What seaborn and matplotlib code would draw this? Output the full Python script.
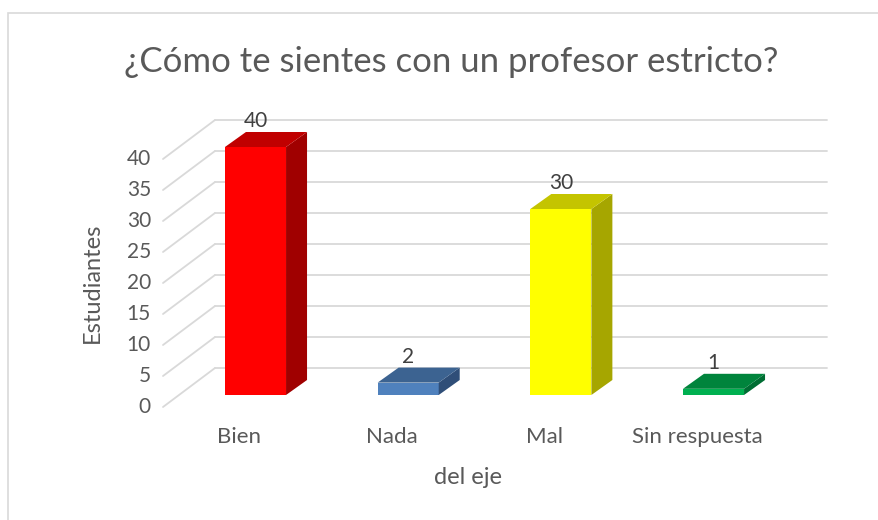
import matplotlib
matplotlib.use("Agg")
import matplotlib.pyplot as plt
from matplotlib.patches import Polygon, Rectangle
import seaborn as sns

# datos
categorias = ["Bien", "Nada", "Mal", "Sin respuesta"]
estudiantes = [40, 2, 30, 1]
yticks = [0, 5, 10, 15, 20, 25, 30, 35, 40]
titulo = "¿Cómo te sientes con un profesor estricto?"
eje_y = "Estudiantes"
eje_x = "del eje"

# colores: frente, tapa, lado
frente = ["#FF0000", "#4F81BD", "#FFFF00", "#00B050"]
tapa = ["#C00000", "#3C6391", "#C4C400", "#00843C"]
lado = ["#A00000", "#2F4E78", "#A6A600", "#006D33"]

sns.set_theme(style="white")
plt.rcParams["font.family"] = ["Lato", "DejaVu Sans"]

W, H = 879, 520
fig = plt.figure(figsize=(W / 100, H / 100), dpi=100)
ax = fig.add_axes([0, 0, 1, 1])

sns.barplot(x=categorias, y=estudiantes, hue=categorias, palette=frente,
            width=0.4, saturation=1, legend=False, ax=ax, zorder=3,
            linewidth=0)

# escala en pixeles
sx, sy = 152.67, 6.2
x0px, y0px = 255.5, H - 395
ax.set_xlim(-x0px / sx, (W - x0px) / sx)
ax.set_ylim(-y0px / sy, (H - y0px) / sy)
ax.axis("off")

def px(d):
    return d / sx

def py(d):
    return d / sy

# desplazamientos 3D (pixeles)
front = (-16, -12)
back = (36, 27)
depth = (21, 15)

# rejilla del fondo y diagonales del lado izquierdo
xl = px(179 - x0px)
xr = px(791 - x0px)
gcol = "#D9D9D9"
for v in yticks:
    ax.plot([xl + px(front[0]), xl + px(back[0])],
            [v + py(front[1]), v + py(back[1])], color=gcol, lw=1.3, zorder=0)
    ax.plot([xl + px(back[0]), xr + px(back[0])],
            [v + py(back[1]), v + py(back[1])], color=gcol, lw=1.3, zorder=0)
    ax.text(xl + px(front[0]) - px(12), v + py(front[1]), str(v),
            ha="right", va="center", fontsize=15, color="#595959")

bars = sorted(ax.patches, key=lambda p: p.get_x())
dx, dy = px(depth[0]), py(depth[1])
for i, b in enumerate(bars):
    x1 = b.get_x()
    x2 = x1 + b.get_width()
    h = b.get_height()
    ax.add_patch(Polygon([(x2, 0), (x2 + dx, dy), (x2 + dx, h + dy), (x2, h)],
                         closed=True, fc=lado[i], ec="none", zorder=3))
    ax.add_patch(Polygon([(x1, h), (x2, h), (x2 + dx, h + dy), (x1 + dx, h + dy)],
                         closed=True, fc=tapa[i], ec="none", zorder=3))
    ax.text((x1 + x2) / 2, h + py(26), str(estudiantes[i]), ha="center",
            va="center", fontsize=15, color="#404040", zorder=4)
    ax.text((x1 + x2) / 2 + px(front[0]), py(-42), categorias[i], ha="center",
            va="center", fontsize=16, color="#595959")

fig.text(451.5 / W, 1 - 62 / H, titulo, ha="center", va="center",
         fontsize=25, color="#595959")
fig.text(92 / W, 1 - 283 / H, eje_y, ha="center", va="center",
         rotation=90, fontsize=17, color="#595959")
fig.text(468 / W, 1 - 478 / H, eje_x, ha="center", va="center",
         fontsize=17, color="#595959")

# marco del grafico
fig.patches.append(Rectangle((8 / W, -0.1), 1.0, 1 - 13 / H + 0.1,
                             transform=fig.transFigure, fill=False,
                             ec="#D9D9D9", lw=1.2))

fig.savefig("out.png", dpi=100, facecolor="white")
